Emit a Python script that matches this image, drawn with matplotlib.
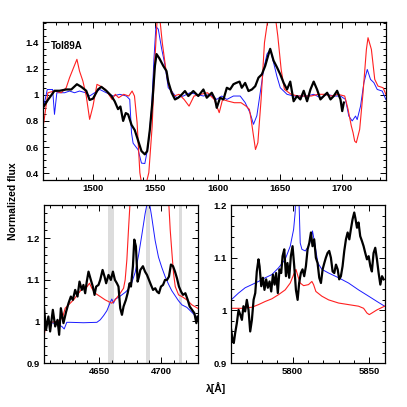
import numpy as np
import matplotlib
matplotlib.use("Agg")
import matplotlib.pyplot as plt
from matplotlib.ticker import MultipleLocator, FuncFormatter

plt.rcParams['font.family'] = ['Liberation Sans', 'DejaVu Sans']
plt.rcParams['font.weight'] = 'bold'

# ---- UV panel (Tol89A) ----
uv_obs_wl = [1460.5, 1463.8, 1469.1, 1473.2, 1478.5, 1482.6, 1487.1, 1490.6, 1494.6, 1497.3,
             1500, 1504, 1506.7, 1510.7, 1514.8, 1517.4, 1520.1, 1522, 1524.2, 1526.3,
             1528.2, 1530.9, 1533.5, 1536.2, 1538.9, 1541.6, 1543.5, 1545.6, 1547.8, 1549.7,
             1551, 1553.1, 1556.4, 1559, 1560.4, 1563.1, 1565.8, 1568.4, 1571.1, 1573.8,
             1576.5, 1580.5, 1584.5, 1588.6, 1591.3, 1595.3, 1598, 1599.3, 1602, 1604.7,
             1607.4, 1610, 1612.7, 1614.9, 1617.6, 1619.4, 1622.1, 1624.8, 1627.5, 1630.2,
             1632.8, 1635.5, 1638.2, 1640.9, 1642.2, 1644.9, 1647.6, 1650.3, 1653, 1655.7,
             1658.3, 1661, 1663.7, 1666.4, 1669.1, 1671.8, 1674.5, 1677.1, 1679.8, 1682.5,
             1685.2, 1687.9, 1690.6, 1693.2, 1695.9, 1698.6, 1700, 1701.3]
uv_obs_fl = [0.91, 0.96, 1.03, 1.03, 1.04, 1.04, 1.08, 1.06, 1.03, 0.96,
             0.97, 1.04, 1.06, 1.03, 0.99, 0.95, 0.89, 0.91, 0.80, 0.86,
             0.85, 0.77, 0.73, 0.65, 0.57, 0.545, 0.57, 0.73, 0.96, 1.22,
             1.31, 1.28, 1.22, 1.18, 1.10, 1.015, 0.964, 0.977, 1.0, 1.028,
             0.99, 1.028, 0.99, 1.04, 0.977, 1.015, 0.964, 0.90, 0.977, 0.964,
             1.053, 1.04, 1.08, 1.09, 1.10, 1.053, 1.09, 1.028, 1.04, 1.065,
             1.13, 1.155, 1.22, 1.31, 1.35, 1.26, 1.21, 1.155, 1.09, 1.04,
             1.10, 0.95, 0.99, 0.964, 1.03, 0.95, 1.04, 1.10, 1.04, 0.964,
             0.99, 1.015, 0.964, 0.99, 1.03, 0.964, 0.875, 0.94]

uv_blue_wl = [1460.5, 1463.3, 1467.6, 1469.1, 1471, 1477.2, 1481.2, 1485.2, 1489.2, 1494.1,
              1497.3, 1501.3, 1505.4, 1510.7, 1516.1, 1521.5, 1526.8, 1529.5, 1530.9, 1532.2,
              1536.2, 1538.9, 1541.6, 1544.3, 1547, 1548.9, 1550.5, 1552.4, 1555.1, 1557.7,
              1560.4, 1563.1, 1567.1, 1572.5, 1577.8, 1583.2, 1588.6, 1593.9, 1599.3, 1603.3,
              1607.4, 1612.7, 1618.1, 1622.1, 1626.1, 1628.8, 1631.5, 1634.2, 1636.9, 1639.6,
              1642.2, 1644.9, 1647.6, 1650.3, 1655.7, 1661, 1666.4, 1671.8, 1677.1, 1682.5,
              1687.9, 1693.2, 1698.6, 1702.6, 1705.3, 1708, 1710.7, 1712, 1714.7, 1717.4,
              1720.1, 1722.7, 1725.4, 1728.1, 1732.1, 1735]
uv_blue_fl = [0.91, 1.04, 1.04, 0.85, 1.015, 1.015, 1.028, 1.015, 1.028, 1.015,
              0.99, 1.015, 1.04, 1.015, 0.99, 1.003, 0.99, 0.964, 0.71, 0.63,
              0.58, 0.478, 0.475, 0.61, 0.89, 1.27, 1.52, 1.50, 1.35, 1.23,
              1.053, 1.028, 0.977, 0.99, 1.015, 1.003, 0.99, 1.003, 0.964, 0.99,
              0.964, 0.99, 0.99, 0.94, 0.86, 0.774, 0.84, 1.015, 1.19, 1.31,
              1.345, 1.245, 1.14, 1.053, 1.003, 0.99, 0.99, 0.99, 1.003, 0.977,
              1.003, 0.99, 0.99, 0.964, 0.837, 0.80, 0.837, 0.81, 0.913, 1.092,
              1.193, 1.117, 1.092, 1.04, 1.028, 0.964]

uv_red_wl = [1460.5, 1463.8, 1469.1, 1474.5, 1478.5, 1481.2, 1484.4, 1487.1, 1489.2, 1491.9,
             1494.6, 1497.3, 1500, 1503.2, 1505.9, 1509.9, 1512.6, 1515.3, 1517.9, 1520.6,
             1524.7, 1528.7, 1531.4, 1533.3, 1535.4, 1537.6, 1539.4, 1542.1, 1544.8, 1547.5,
             1549.4, 1551.5, 1553.7, 1555.6, 1558.3, 1560.9, 1565, 1569, 1573.1, 1577.1,
             1581.1, 1586.5, 1591.9, 1597.3, 1601.3, 1604, 1608, 1613.4, 1618.8, 1622.8,
             1625.5, 1626.9, 1628.8, 1630.4, 1632.3, 1634.9, 1637.6, 1640.3, 1642.9, 1645.6,
             1648.3, 1651, 1653.6, 1659, 1664.4, 1669.8, 1675.1, 1680.5, 1685.9, 1691.2,
             1696.6, 1702, 1704.7, 1707.3, 1708.7, 1710, 1711.3, 1714, 1716.7, 1719.4,
             1720.7, 1723.4, 1726.1, 1728.7, 1732.8, 1735]
uv_red_fl = [0.786, 1.015, 1.028, 1.015, 1.053, 1.13, 1.206, 1.27, 1.18, 1.104,
             0.99, 0.812, 0.913, 1.079, 1.066, 1.041, 1.003, 0.964, 1.003, 0.977,
             1.003, 0.99, 1.028, 0.99, 0.786, 0.405, 0.30, 0.30, 0.405, 0.761,
             1.22, 1.58, 1.575, 1.397, 1.206, 1.066, 0.99, 1.003, 0.964, 0.913,
             0.99, 1.003, 1.015, 0.964, 0.863, 0.964, 0.952, 0.939, 0.939, 0.913,
             0.888, 0.812, 0.685, 0.582, 0.634, 0.964, 1.397, 1.575, 1.68, 1.65,
             1.448, 1.193, 1.041, 1.003, 0.99, 0.99, 0.99, 1.003, 1.003, 0.99,
             1.003, 0.99, 0.888, 0.761, 0.71, 0.646, 0.634, 0.735, 1.015, 1.346,
             1.435, 1.346, 1.117, 1.066, 1.053, 1.003]

# ---- He II 4686 panel ----
heii_obs_wl = [4605.1, 4606.7, 4608.6, 4610, 4612.2, 4614.1, 4616, 4617.3, 4618.7, 4620.8,
               4623, 4624.9, 4626.8, 4628.4, 4630.3, 4632.2, 4633.8, 4635.7, 4637, 4638.4,
               4639.7, 4641.1, 4643, 4644.6, 4646, 4647.3, 4649.2, 4650.6, 4652.5, 4654.1,
               4655.4, 4657.3, 4659.2, 4660.9, 4662.5, 4664.1, 4665.4, 4666.8, 4668.2, 4669.5,
               4671.4, 4672.8, 4674.4, 4675.5, 4677.1, 4678.2, 4679.5, 4680.9, 4682, 4683.1,
               4685.2, 4686.9, 4688.5, 4690.1, 4691.7, 4693.4, 4695.2, 4696.6, 4698.2, 4699.8,
               4701.5, 4703.1, 4704.7, 4706.3, 4707.9, 4709.6, 4711.2, 4712.8, 4714.4, 4716.1,
               4717.7, 4719.6, 4721.5, 4723.1, 4725, 4726.9, 4728.5, 4729.5]
heii_obs_fl = [1.032, 0.98, 1.012, 0.976, 1.028, 0.988, 1.004, 0.968, 1.032, 0.996,
               1.024, 1.044, 1.06, 1.052, 1.076, 1.06, 1.096, 1.076, 1.088, 1.068,
               1.096, 1.12, 1.1, 1.084, 1.064, 1.084, 1.088, 1.1, 1.124, 1.108,
               1.092, 1.112, 1.1, 1.12, 1.1, 1.092, 1.084, 1.032, 1.016, 1.036,
               1.052, 1.068, 1.092, 1.084, 1.133, 1.197, 1.181, 1.096, 1.108, 1.124,
               1.133, 1.12, 1.112, 1.1, 1.088, 1.076, 1.08, 1.072, 1.068, 1.084,
               1.088, 1.1, 1.1, 1.108, 1.137, 1.133, 1.12, 1.104, 1.084, 1.072,
               1.064, 1.068, 1.052, 1.036, 1.028, 1.02, 0.996, 1.012]

heii_blue_wl = [4605.1, 4610, 4615.4, 4619.5, 4621.4, 4623.5, 4626.2, 4637, 4647.9, 4650.6,
                4653.3, 4656, 4658.7, 4660, 4661.4, 4662.7, 4665.4, 4668.1, 4670.8, 4673.5,
                4676.2, 4678.9, 4681.6, 4684.3, 4687, 4689.7, 4692.4, 4695.1, 4697.8, 4700.5,
                4703.2, 4705.9, 4708.6, 4711.3, 4714, 4716.8, 4720.8, 4724.9, 4729.5]
heii_blue_fl = [0.998, 0.998, 0.994, 0.988, 0.982, 0.998, 0.998, 0.997, 0.998, 1.004,
                1.014, 1.026, 1.046, 1.054, 1.044, 1.054, 1.058, 1.064, 1.07, 1.078,
                1.094, 1.118, 1.158, 1.208, 1.26, 1.30, 1.25, 1.195, 1.155, 1.13,
                1.108, 1.09, 1.074, 1.062, 1.05, 1.04, 1.034, 1.022, 1.008]

heii_red_wl = [4605.1, 4606.7, 4610, 4615.4, 4618.1, 4620.3, 4622.2, 4624.9, 4629, 4633,
               4635.7, 4639.7, 4641.9, 4643.8, 4646.5, 4650.6, 4654.6, 4657.3, 4660, 4662.7,
               4666.8, 4669.5, 4670.8, 4672.2, 4673.5, 4674.9, 4680, 4690, 4700, 4706,
               4707.3, 4708.7, 4710, 4711.4, 4714.1, 4716.8, 4720.8, 4724.9, 4729.5]
heii_red_fl = [0.964, 0.996, 0.998, 1.0, 1.004, 1.012, 1.032, 1.04, 1.052, 1.068,
               1.078, 1.083, 1.092, 1.08, 1.068, 1.06, 1.052, 1.048, 1.044, 1.052,
               1.068, 1.08, 1.1, 1.149, 1.221, 1.293, 1.5, 1.7, 1.5, 1.293,
               1.221, 1.165, 1.116, 1.084, 1.064, 1.06, 1.052, 1.04, 1.032]

heii_bands = [(4657.3, 4661.9), (4687.4, 4691.1), (4714.2, 4716.9)]

# ---- C IV 5808 panel ----
civ_obs_wl = [5760, 5760.9, 5761.7, 5762.6, 5763.7, 5764.8, 5765.9, 5767, 5768, 5769.1,
              5770.2, 5771.3, 5772.4, 5773.5, 5774.6, 5775.7, 5776.7, 5777.8, 5778.5, 5779.6,
              5780.7, 5781.7, 5782.8, 5783.9, 5785, 5786.1, 5787.2, 5788.3, 5789.3, 5790.4,
              5791.5, 5792.6, 5793.5, 5794.6, 5795.7, 5796.7, 5797.8, 5798.9, 5800, 5801.1,
              5802.2, 5803.3, 5804.3, 5805.4, 5806.5, 5807.6, 5808.7, 5809.8, 5810.9, 5812,
              5813, 5814.1, 5815.2, 5816.3, 5817.4, 5818.5, 5819.6, 5820.7, 5821.7, 5822.8,
              5823.9, 5825, 5826.1, 5827.2, 5828.3, 5829.4, 5830.4, 5831.5, 5832.6, 5833.7,
              5834.8, 5835.9, 5837, 5838, 5839.1, 5840.2, 5840.9, 5842, 5843, 5844.1,
              5845.2, 5846.3, 5847.4, 5848.5, 5849.6, 5850.7, 5851.7, 5852.8, 5853.9, 5855,
              5856.1, 5857.2, 5858.3, 5859.4]
civ_obs_fl = [0.963, 0.944, 0.938, 0.957, 0.976, 1.001, 0.992, 0.982, 1.008, 0.998,
              1.02, 1.001, 0.96, 0.982, 1.02, 1.033, 1.074, 1.097, 1.084, 1.046,
              1.062, 1.039, 1.059, 1.043, 1.055, 1.036, 1.068, 1.049, 1.071, 1.033,
              1.078, 1.071, 1.103, 1.116, 1.065, 1.09, 1.062, 1.103, 1.122, 1.084,
              1.039, 1.02, 1.052, 1.071, 1.078, 1.065, 1.084, 1.116, 1.128, 1.148,
              1.122, 1.135, 1.1, 1.09, 1.062, 1.052, 1.078, 1.09, 1.1, 1.109,
              1.113, 1.1, 1.074, 1.071, 1.087, 1.078, 1.059, 1.065, 1.084, 1.113,
              1.135, 1.148, 1.135, 1.154, 1.173, 1.186, 1.176, 1.157, 1.167, 1.141,
              1.132, 1.122, 1.109, 1.097, 1.103, 1.084, 1.074, 1.109, 1.119, 1.097,
              1.071, 1.049, 1.065, 1.059]

civ_blue_wl = [5760, 5764.8, 5769.1, 5773.5, 5777.8, 5782.2, 5786.5, 5790.9, 5795.2, 5798.5,
               5800.7, 5801.7, 5803.3, 5804.3, 5805, 5806.1, 5808.3, 5810.4, 5812.2, 5813,
               5814.4, 5816.5, 5819.1, 5823.5, 5830, 5836.5, 5843, 5849.6, 5855, 5860]
civ_blue_fl = [1.02, 1.033, 1.043, 1.049, 1.055, 1.062, 1.068, 1.081, 1.097, 1.122,
               1.154, 1.186, 1.35, 1.198, 1.128, 1.116, 1.113, 1.122, 1.138, 1.151,
               1.128, 1.09, 1.078, 1.071, 1.062, 1.052, 1.039, 1.027, 1.017, 1.008]

civ_red_wl = [5760, 5767, 5773.5, 5777.8, 5782.2, 5786.5, 5790.9, 5795.2, 5798.5, 5800.7,
              5802.2, 5803.5, 5805, 5807.2, 5810.4, 5812.6, 5813.7, 5815.2, 5819.1, 5823.5,
              5830, 5836.5, 5843, 5846.3, 5848.5, 5850, 5851.7, 5855, 5860]
civ_red_fl = [1.004, 1.004, 1.006, 1.011, 1.017, 1.022, 1.03, 1.039, 1.052, 1.068,
              1.078, 1.065, 1.052, 1.047, 1.049, 1.055, 1.049, 1.036, 1.027, 1.02,
              1.014, 1.011, 1.008, 1.004, 0.995, 0.992, 0.995, 1.001, 1.008]

fs = 6.8
fmt = FuncFormatter(lambda v, p: ('%g' % round(v, 3)))


def style_axis(ax, xmaj, xmin, ymaj, ymin):
    ax.xaxis.set_major_locator(MultipleLocator(xmaj))
    ax.xaxis.set_minor_locator(MultipleLocator(xmin))
    ax.yaxis.set_major_locator(MultipleLocator(ymaj))
    ax.yaxis.set_minor_locator(MultipleLocator(ymin))
    ax.yaxis.set_major_formatter(fmt)
    ax.tick_params(which='both', direction='in', top=True, right=True,
                   labelsize=fs, width=0.7, pad=3)
    ax.tick_params(which='major', length=4.5)
    ax.tick_params(which='minor', length=2.3)
    for s in ax.spines.values():
        s.set_linewidth(0.9)


fig = plt.figure(figsize=(4.07, 4.07), dpi=100)

ax1 = fig.add_axes([0.106, 0.558, 0.842, 0.388])
ax1.plot(uv_obs_wl, uv_obs_fl, color='black', lw=1.6, zorder=3)
ax1.plot(uv_blue_wl, uv_blue_fl, color='#1a1aff', lw=0.7, zorder=2)
ax1.plot(uv_red_wl, uv_red_fl, color='#ff2020', lw=0.8, zorder=2)
ax1.set_xlim(1460, 1735)
ax1.set_ylim(0.35, 1.555)
style_axis(ax1, 50, 10, 0.2, 0.05)
ax1.text(0.022, 0.848, 'Tol89A', transform=ax1.transAxes, fontsize=7,
         va='center', ha='left')

ax2 = fig.add_axes([0.108, 0.108, 0.379, 0.388])
for lo, hi in heii_bands:
    ax2.axvspan(lo, hi, color='#dcdcdc', lw=0, zorder=0)
ax2.plot(heii_obs_wl, heii_obs_fl, color='black', lw=1.6, zorder=3)
ax2.plot(heii_blue_wl, heii_blue_fl, color='#1a1aff', lw=0.7, zorder=2)
ax2.plot(heii_red_wl, heii_red_fl, color='#ff2020', lw=0.8, zorder=2)
ax2.set_xlim(4605, 4730)
ax2.set_ylim(0.9, 1.28)
style_axis(ax2, 50, 10, 0.1, 0.02)

ax3 = fig.add_axes([0.568, 0.108, 0.377, 0.388])
ax3.plot(civ_obs_wl, civ_obs_fl, color='black', lw=1.6, zorder=3)
ax3.plot(civ_blue_wl, civ_blue_fl, color='#1a1aff', lw=0.7, zorder=2)
ax3.plot(civ_red_wl, civ_red_fl, color='#ff2020', lw=0.8, zorder=2)
ax3.set_xlim(5760, 5860)
ax3.set_ylim(0.9, 1.2)
style_axis(ax3, 50, 10, 0.1, 0.02)

fig.text(0.033, 0.505, 'Normalized flux', rotation=90, fontsize=7.5,
         ha='center', va='center')
fig.text(0.531, 0.047, 'λ[Å]', fontsize=7.5, ha='center', va='center')

fig.savefig('out.png', dpi=100)
